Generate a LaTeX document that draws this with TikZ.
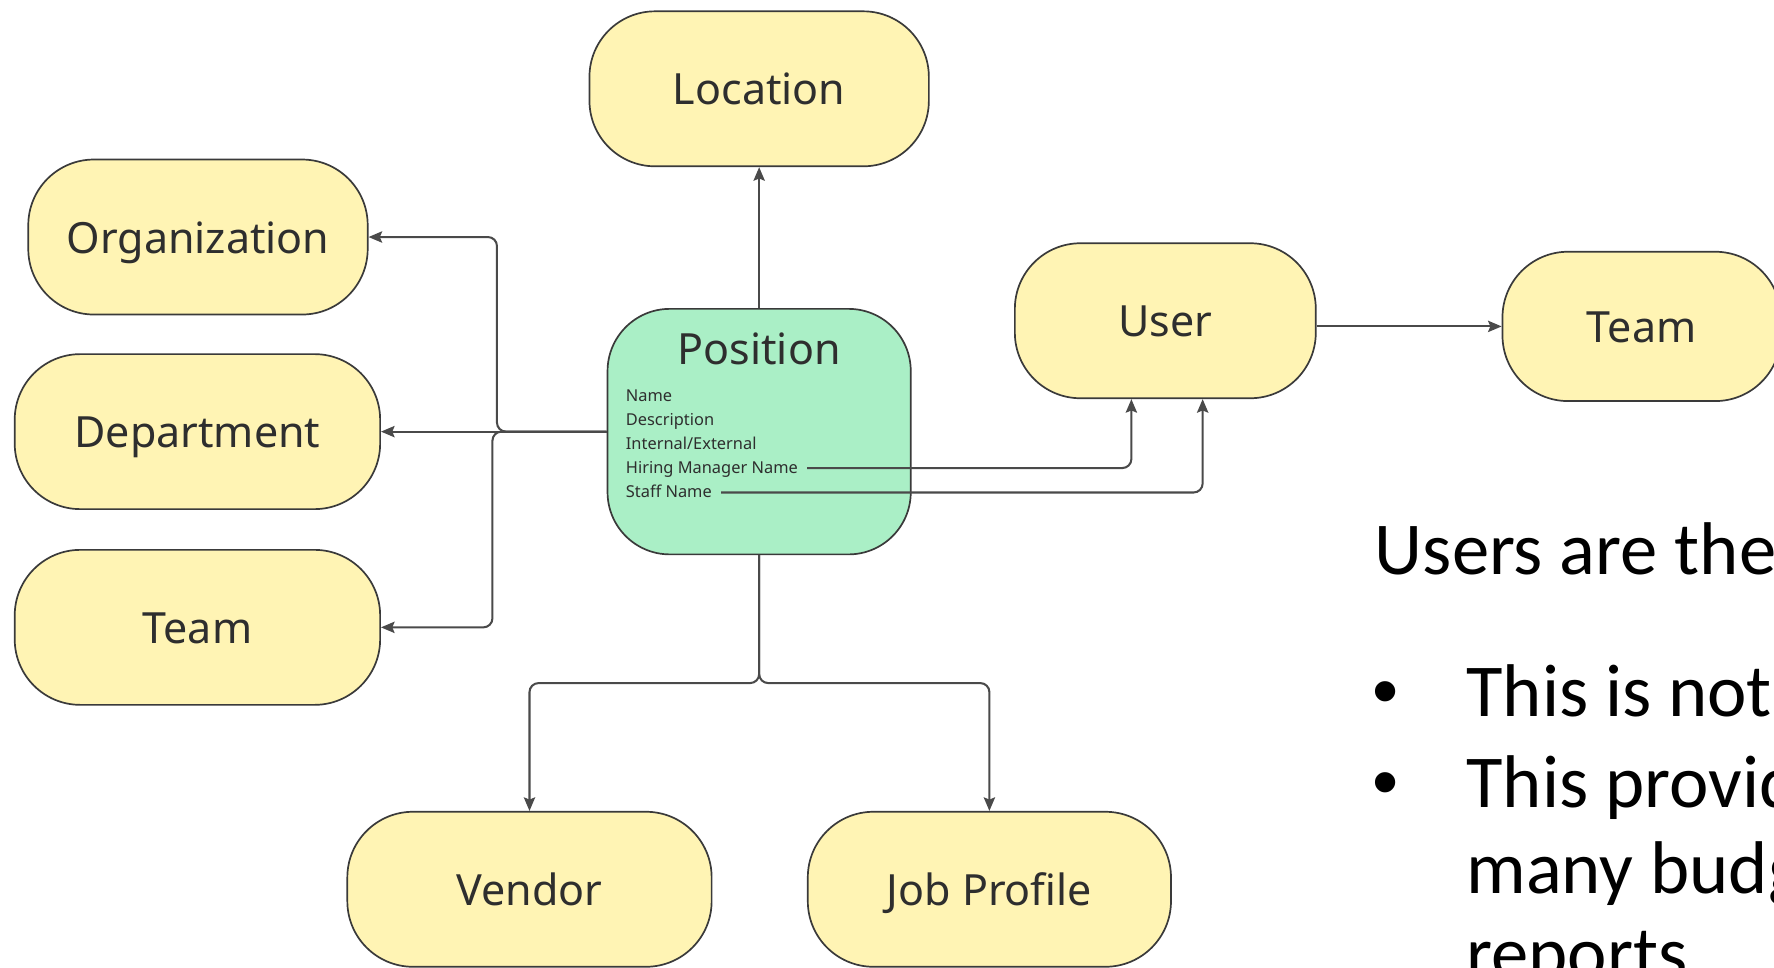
\documentclass[tikz,border=0pt]{standalone}
\usepackage{fontspec}
\setmainfont{Noto Sans}
\newfontfamily\calfont{Carlito}
\newfontfamily\bulfont{Liberation Sans}
\usetikzlibrary{arrows.meta,calc}
\definecolor{boxyellow}{HTML}{FFF4B4}
\definecolor{boxgreen}{HTML}{AAEFC6}
\definecolor{edgecol}{HTML}{4A4A4A}
\definecolor{bordercol}{HTML}{3A3A3A}
\definecolor{textgray}{HTML}{2E2E2E}
\begin{document}
\begin{tikzpicture}[x=1pt,y=-1pt,
  ent/.style={draw=bordercol, line width=1.5pt, fill=boxyellow, rounded corners=58pt,
    minimum height=137pt, inner sep=0pt, text height=36pt, text depth=7.4pt,
    text=textgray, font=\fontsize{38}{44}\selectfont},
  conn/.style={draw=edgecol, line width=1.8pt, rounded corners=8pt,
    -{Stealth[length=12pt,width=10pt,inset=2pt]}},
  attr/.style={anchor=base west, inner sep=0pt, text=textgray, font=\fontsize{14.5}{16}\selectfont},
  note/.style={anchor=base west, inner sep=0pt, text=black, font=\calfont\fontsize{66}{80}\selectfont},
  bullet/.style={anchor=base west, inner sep=0pt, text=black, font=\bulfont\fontsize{66}{80}\selectfont}]
\useasboundingbox (0,0) rectangle (1568,855);
\clip (0,0) rectangle (1568,855);
\fill[white] (0,0) rectangle (1568,855);

% entity nodes
\node[ent, minimum width=300pt] (loc) at (671,78.5) {Location};
\node[ent, minimum width=300pt] (org) at (175,209.5) {Organization};
\node[ent, minimum width=323pt] (dep) at (174.5,381.5) {Department};
\node[ent, minimum width=323pt] (teamL) at (174.5,554.5) {Team};
\node[ent, minimum width=266pt] (user) at (1030,283.5) {User};
\node[ent, minimum width=246pt, minimum height=132pt] (teamR) at (1451,288.5) {Team};
\node[ent, minimum width=322pt] (vendor) at (468,786) {Vendor};
\node[ent, minimum width=321pt] (job) at (874.5,786) {Job Profile};

% position node
\node[draw=bordercol, line width=1.5pt, fill=boxgreen, rounded corners=55pt,
  minimum width=268pt, minimum height=217pt, inner sep=0pt] (pos) at (671,381.5) {};
\node[anchor=base, inner sep=0pt, text=textgray, font=\fontsize{38}{44}\selectfont] (postitle) at (671,322.6) {Position};
\node[attr] (aname) at (553,355) {Name};
\node[attr] (adesc) at (553,376) {Description};
\node[attr] (aint) at (553,397.3) {Internal/External};
\node[attr] (ahm) at (553,418.5) {Hiring Manager Name};
\node[attr] (astaff) at (553,439.6) {Staff Name};

% connectors
\draw[conn] (pos.north) -- (loc.south);
\draw[conn] (pos.west) -- (dep.east);
\draw[conn] (pos.west) -- ++(-97,0) |- (org.east);
\draw[conn] (pos.west) -- ++(-101,0) |- (teamL.east);
\draw[conn] (pos.south) -- ++(0,113) -| (vendor.north);
\draw[conn] (pos.south) -- ++(0,113) -| (job.north);
\draw[conn] (user.east |- teamR.west) -- (teamR.west);
\coordinate (hmstart) at ($(ahm.base east)+(8,-4.8)$);
\coordinate (ststart) at ($(astaff.base east)+(8,-4.3)$);
\draw[conn] (hmstart) -| ($(user.south)+(-30,0)$);
\draw[conn] (ststart) -| ($(user.south)+(33,0)$);

% note text
\node[note] (n1) at (1215,508) {Users are the};
\node[bullet] (b1) at (1213,633.6) {•};
\node[note] (t1) at (1296,633.6) {This is not};
\node[bullet] (b2) at (1213,714) {•};
\node[note] (t2) at (1296,714) {This provid};
\node[note] (t3) at (1296,789.6) {many budg};
\node[note] (t4) at (1296,865.2) {reports};
\end{tikzpicture}
\end{document}
